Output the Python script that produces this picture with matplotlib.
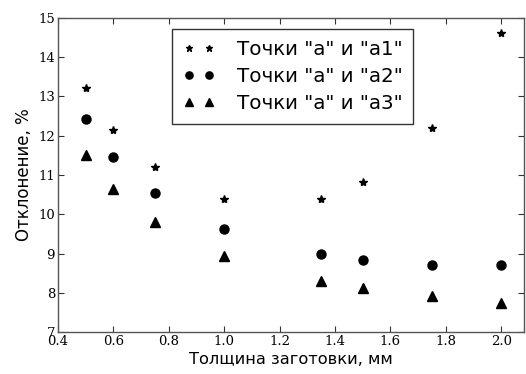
import numpy as np
import matplotlib.pyplot as plt

# данные
thickness = [0.5, 0.6, 0.75, 1.0, 1.35, 1.5, 1.75, 2.0]
dev_a1 = [13.22, 12.15, 11.2, 10.39, 10.39, 10.82, 12.2, 14.62]
dev_a2 = [12.42, 11.47, 10.55, 9.62, 8.99, 8.83, 8.71, 8.71]
dev_a3 = [11.5, 10.65, 9.8, 8.94, 8.3, 8.12, 7.92, 7.74]
labels = ['Точки "а" и "а1"', 'Точки "а" и "а2"', 'Точки "а" и "а3"']

fig = plt.figure(figsize=(5.26, 3.74), dpi=100)
ax = fig.add_axes([0.110, 0.112, 0.886, 0.840])

ax.plot(thickness, dev_a1, '*', color='black', markersize=6, label=labels[0])
ax.plot(thickness, dev_a2, 'o', color='black', markersize=6.5, label=labels[1])
ax.plot(thickness, dev_a3, '^', color='black', markersize=6.5, label=labels[2])

ax.set_xlim(0.4, 2.082)
ax.set_ylim(7, 15)
ax.set_xticks(np.arange(0.4, 2.01, 0.2))
ax.set_yticks(range(7, 16))
ax.set_xticklabels(['%.1f' % v for v in np.arange(0.4, 2.01, 0.2)])
for lab in ax.get_xticklabels() + ax.get_yticklabels():
    lab.set_family('DejaVu Serif')
    lab.set_fontsize(9.5)
ax.tick_params(direction='in', top=True, right=True, length=4, width=0.8,
               colors='#333333', labelcolor='black', pad=2)
for s in ax.spines.values():
    s.set_color('#555555')
    s.set_linewidth(1.0)

ax.set_xlabel('Толщина заготовки, мм', fontsize=11.7, labelpad=3)
ax.set_ylabel('Отклонение, %', fontsize=12, labelpad=4)

leg = ax.legend(loc='upper left', bbox_to_anchor=(0.327, 0.923), bbox_transform=fig.transFigure,
                numpoints=2, fancybox=False, fontsize=14.3, frameon=True, markerscale=0.8,
                handlelength=1.6, handletextpad=1.1, borderpad=0.55, labelspacing=0.42,
                borderaxespad=0)
leg.get_frame().set_edgecolor('black')
leg.get_frame().set_linewidth(1.0)

plt.savefig('out.png', dpi=100)
